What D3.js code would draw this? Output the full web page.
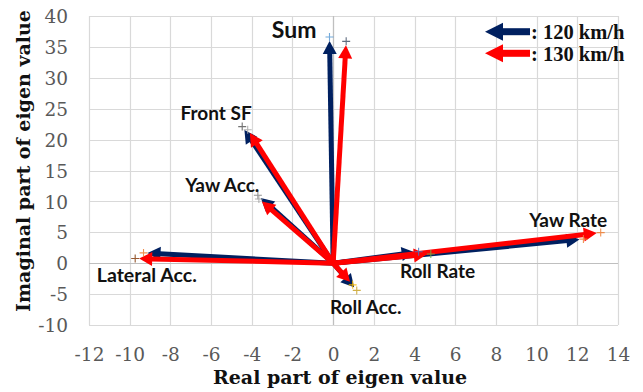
<!DOCTYPE html>
<html>
<head>
<meta charset="utf-8">
<script src="https://cdn.jsdelivr.net/npm/d3@7/dist/d3.min.js"></script>
<style>
  html, body { margin: 0; padding: 0; background: #fff; }
  svg { display: block; }
</style>
</head>
<body>
<svg id="chart" width="643" height="392"></svg>
<script>
// Eigenvalue modes (end points of the eigenvector arrows)
const modes = ["Sum", "Front SF", "Yaw Acc.", "Lateral Acc.", "Roll Acc.", "Roll Rate", "Yaw Rate"];
const real120 = [-0.18, -4.47, -3.7, -9.32, 1.16, 4.2, 12.3];
const imag120 = [36.6, 22.1, 11.0, 1.67, -4.4, 1.85, 3.9];
const real130 = [0.64, -4.2, -3.65, -9.73, 0.96, 4.8, 13.15];
const imag130 = [35.9, 21.6, 10.4, 0.76, -3.5, 1.5, 4.95];
const seriesNames = ["120 km/h", "130 km/h"];
const xTicks = [-12, -10, -8, -6, -4, -2, 0, 2, 4, 6, 8, 10, 12, 14];
const yTicks = [-10, -5, 0, 5, 10, 15, 20, 25, 30, 35, 40];

const svg = d3.select("#chart");
const plot = { left: 89, right: 618, top: 16, bottom: 325 };

const x = d3.scaleLinear().domain([-12, 14]).range([plot.left, plot.right]);
const y = d3.scaleLinear().domain([-10, 40]).range([plot.bottom, plot.top]);

const seriesColor = ["#002060", "#ff0000"];
const markerColor = [
  ["#5b9bd5", "#595959", "#7f7f7f", "#ed7d31", "#c9a227", "#4472c4", "#ed7d31"],
  ["#44546a", "#a5a5a5", "#a5a5a5", "#843c0c", "#ffc000", "#70ad47", "#ed7d31"]
];

// grid
const grid = svg.append("g");
grid.selectAll("line.v").data(xTicks).join("line")
  .attr("x1", d => Math.round(x(d)) + 0.5).attr("x2", d => Math.round(x(d)) + 0.5)
  .attr("y1", plot.top).attr("y2", plot.bottom)
  .attr("stroke", "#d9d9d9").attr("stroke-width", 1.2);
grid.selectAll("line.h").data(yTicks).join("line")
  .attr("y1", d => Math.round(y(d)) + 0.5).attr("y2", d => Math.round(y(d)) + 0.5)
  .attr("x1", plot.left).attr("x2", plot.right)
  .attr("stroke", "#d9d9d9").attr("stroke-width", 1.2);

// axis lines crossing at the origin
svg.append("line")
  .attr("x1", plot.left).attr("x2", plot.right)
  .attr("y1", Math.round(y(0)) + 0.5).attr("y2", Math.round(y(0)) + 0.5)
  .attr("stroke", "#bfbfbf").attr("stroke-width", 1.2);
svg.append("line")
  .attr("x1", Math.round(x(0)) + 0.5).attr("x2", Math.round(x(0)) + 0.5)
  .attr("y1", plot.top).attr("y2", plot.bottom)
  .attr("stroke", "#bfbfbf").attr("stroke-width", 1.2);

// tick labels via d3 axes (no domain/tick lines)
const tickFont = "'DejaVu Serif', serif";
const xAxis = d3.axisBottom(x).tickValues(xTicks).tickFormat(d => String(d)).tickSize(0).tickPadding(0);
const gx = svg.append("g").attr("transform", `translate(0, 348)`).call(xAxis);
gx.select(".domain").remove();
gx.selectAll("text").attr("font-family", tickFont).attr("font-size", 18.5)
  .attr("fill", "#595959").attr("dy", "0.71em");

const yAxis = d3.axisLeft(y).tickValues(yTicks).tickFormat(d => String(d)).tickSize(0).tickPadding(0);
const gy = svg.append("g").attr("transform", `translate(68, 0)`).call(yAxis);
gy.select(".domain").remove();
gy.selectAll("text").attr("font-family", tickFont).attr("font-size", 18.5)
  .attr("fill", "#595959").attr("dy", "0.36em");

// axis titles
const titleFont = "'DejaVu Serif', serif";
svg.append("text").text("Real part of eigen value")
  .attr("x", 340).attr("y", 384).attr("text-anchor", "middle")
  .attr("font-family", titleFont).attr("font-weight", "bold").attr("font-size", 19).attr("fill", "#111");
svg.append("text").text("Imaginal part of eigen value")
  .attr("transform", "translate(30, 161) rotate(-90)").attr("text-anchor", "middle")
  .attr("font-family", titleFont).attr("font-weight", "bold").attr("font-size", 19).attr("fill", "#111");

// arrow drawing helper (pixel space)
function arrow(g, x0, y0, x1, y1, color, shaft, headLen, headHalf, shorten) {
  const dx = x1 - x0, dy = y1 - y0;
  const len = Math.hypot(dx, dy);
  const ux = dx / len, uy = dy / len;
  const tx = x1 - ux * shorten, ty = y1 - uy * shorten;
  const bx = tx - ux * headLen, by = ty - uy * headLen;
  g.append("line")
    .attr("x1", x0).attr("y1", y0)
    .attr("x2", bx + ux * 1).attr("y2", by + uy * 1)
    .attr("stroke", color).attr("stroke-width", shaft).attr("stroke-linecap", "butt");
  const nx = -uy, ny = ux;
  g.append("path")
    .attr("d", `M${tx},${ty}L${bx + nx * headHalf},${by + ny * headHalf}L${bx - nx * headHalf},${by - ny * headHalf}Z`)
    .attr("fill", color);
}

const series = [
  { re: real120, im: imag120 },
  { re: real130, im: imag130 }
];

const arrows = svg.append("g");
series.forEach((s, si) => {
  const g = arrows.append("g");
  modes.forEach((m, i) => {
    arrow(g, x(0), y(0), x(s.re[i]), y(s.im[i]), seriesColor[si], 5, 13, 7, 4);
  });
});

// point markers (+)
const marks = svg.append("g");
series.forEach((s, si) => {
  modes.forEach((m, i) => {
    const px = x(s.re[i]), py = y(s.im[i]);
    marks.append("path")
      .attr("d", `M${px - 4},${py}H${px + 4}M${px},${py - 4}V${py + 4}`)
      .attr("stroke", markerColor[si][i]).attr("stroke-width", 1.1).attr("fill", "none")
      .attr("opacity", 0.85);
  });
});

// mode labels
const labelFont = "Lato, 'Open Sans', sans-serif";
const labelPos = {
  "Sum": [-1.92, 37.7, 23],
  "Front SF": [-5.75, 24.3, 19],
  "Yaw Acc.": [-5.45, 12.6, 19],
  "Lateral Acc.": [-9.16, -1.94, 19.5],
  "Roll Acc.": [1.6, -7.1, 19],
  "Roll Rate": [5.13, -1.3, 19],
  "Yaw Rate": [11.55, 6.96, 19]
};
svg.append("g").selectAll("text").data(modes).join("text")
  .text(d => d)
  .attr("x", d => x(labelPos[d][0]))
  .attr("y", d => y(labelPos[d][1]))
  .attr("dy", "0.36em")
  .attr("text-anchor", "middle")
  .attr("font-family", labelFont).attr("font-weight", "bold")
  .attr("font-size", d => labelPos[d][2]).attr("fill", "#111");

// legend
const legend = svg.append("g");
const legendY = [31.7, 53.3];
seriesNames.forEach((name, i) => {
  arrow(legend, 530, legendY[i], 485, legendY[i], seriesColor[i], 7, 18, 9, 0);
  legend.append("text").text(": " + name)
    .attr("x", 531).attr("y", legendY[i]).attr("dy", "0.36em")
    .attr("font-family", "'Liberation Serif', serif").attr("font-weight", "bold")
    .attr("font-size", 20.5).attr("fill", "#111");
});
</script>
</body>
</html>
